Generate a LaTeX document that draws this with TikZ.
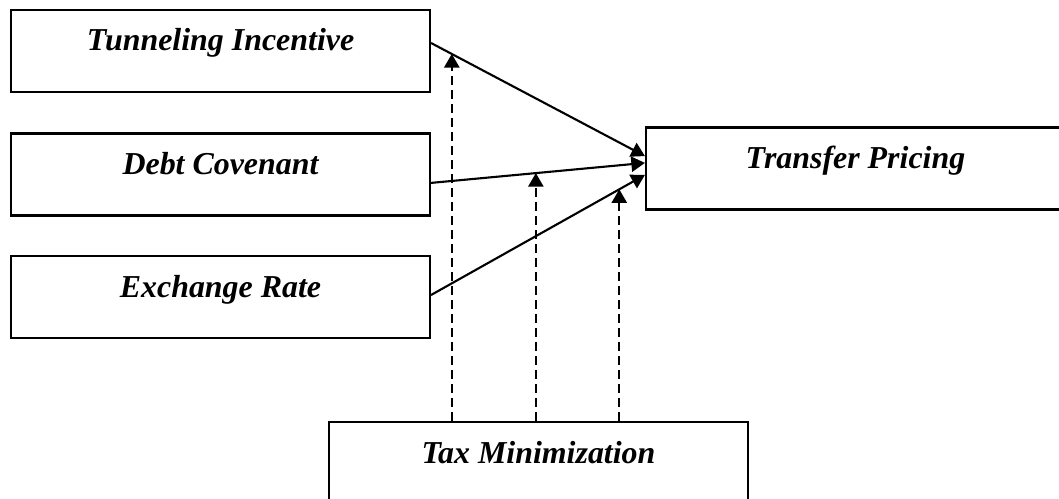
\documentclass[tikz,border=0pt]{standalone}
\usepackage{fontspec}
\setmainfont{Liberation Serif}
\usepackage{tikz}
\usetikzlibrary{calc,arrows.meta}

\tikzset{
  varbox/.style={draw, line width=1.5pt, rectangle, minimum width=10.475cm, minimum height=2.05cm,
    inner sep=0pt, text height=0.42cm, text depth=0.42cm,
    font=\fontsize{22.7}{26}\selectfont\bfseries\itshape},
  effect/.style={line width=1.5pt, -{Triangle[length=0.34cm,width=0.38cm]}},
  moder/.style={effect, dash pattern=on 0.225cm off 0.125cm}
}

\begin{document}
\begin{tikzpicture}
    \useasboundingbox (0,0) rectangle (26.475,-12.475);

    \node[varbox] (ti) at (5.5125,-1.275) {Tunneling Incentive};
    \node[varbox] (dc) at (5.5125,-4.3625) {Debt Covenant};
    \node[varbox] (er) at (5.5125,-7.425) {Exchange Rate};
    \node[varbox] (tp) at (21.3875,-4.2125) {Transfer Pricing};
    \node[varbox] (tm) at (13.4625,-11.575) {Tax Minimization};

    \coordinate (ti1) at ([yshift=0.2cm]ti.east);
    \coordinate (dc1) at ([yshift=-0.21cm]dc.east);
    \coordinate (er1) at ([yshift=0.05cm]er.east);
    \coordinate (tp1) at ([yshift=0.31cm]tp.west);
    \coordinate (tp2) at ([yshift=0.14cm]tp.west);
    \coordinate (tp3) at ([yshift=-0.16cm]tp.west);

    \draw[effect] (ti1) to (tp1);
    \draw[effect] (dc1) to (tp2);
    \draw[effect] (er1) to (tp3);

    % moderating effect
    \coordinate (m1) at ($(ti1)!0.097!(tp1)$);
    \coordinate (m2) at ($(dc1)!0.49!(tp2)$);
    \coordinate (m3) at ($(er1)!0.88!(tp3)$);

    \draw[moder] (m1 |- tm.north) to (m1);
    \draw[moder] (m2 |- tm.north) to (m2);
    \draw[moder] (m3 |- tm.north) to (m3);
\end{tikzpicture}
\end{document}
